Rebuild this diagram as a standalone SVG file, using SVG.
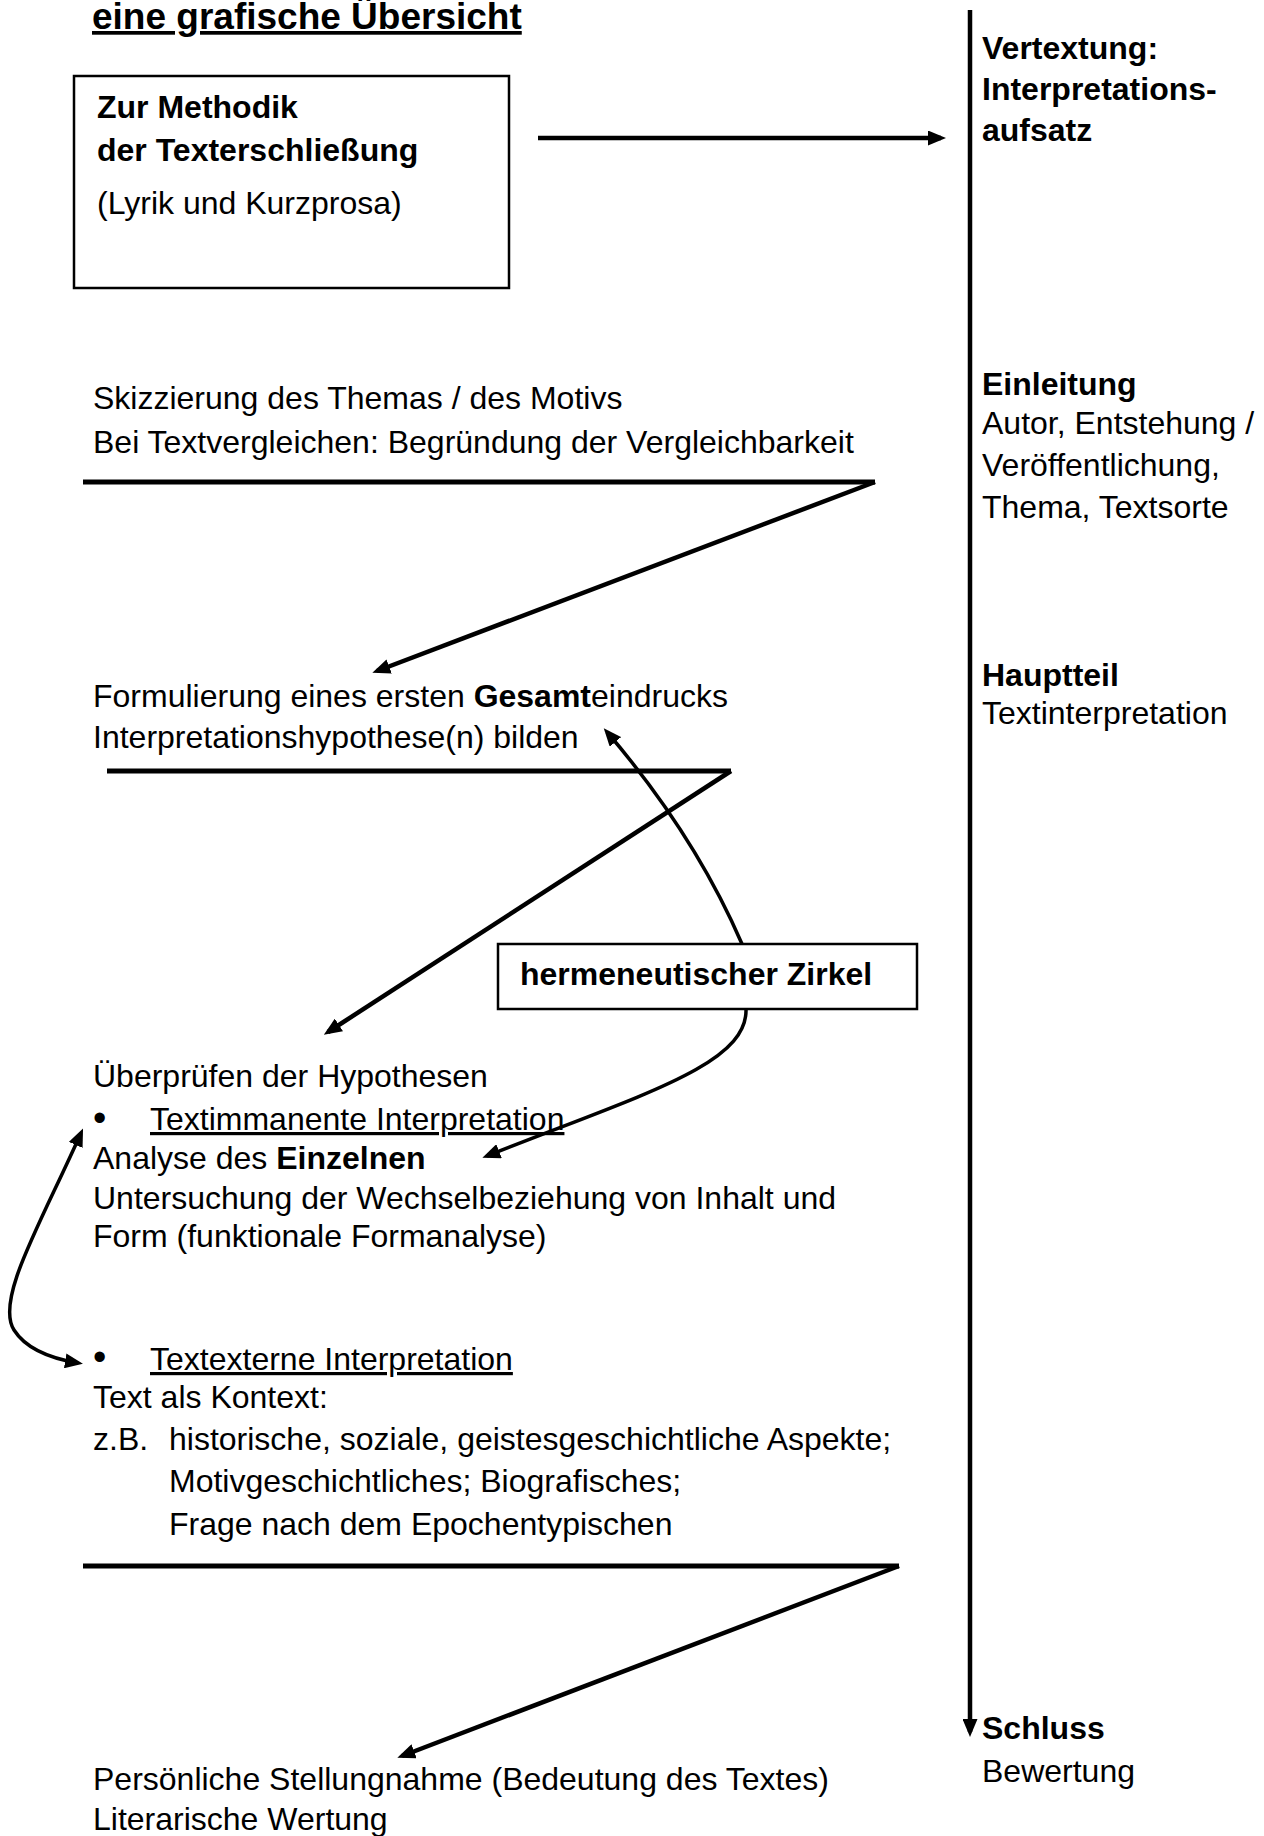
<svg xmlns="http://www.w3.org/2000/svg" width="1264" height="1836" viewBox="0 0 1264 1836">
<style>
text { font-family: "Liberation Sans", Arial, sans-serif; font-size: 32px; fill: #000; }
.b { font-weight: bold; }
.t { font-size: 37px; font-weight: bold; text-decoration: underline; }
.u { text-decoration: underline; }
.bul { font-size: 38px; }
.box { fill: #fff; stroke: #000; stroke-width: 2.5; }
.rule { stroke: #000; stroke-width: 5; fill: none; }
.ln { stroke: #000; stroke-width: 4.5; fill: none; }
.cv { stroke: #000; stroke-width: 3.5; fill: none; }
</style>
<defs>
<marker id="ah" markerUnits="userSpaceOnUse" markerWidth="18" markerHeight="15" viewBox="0 0 18 15" refX="13" refY="7.5" orient="auto-start-reverse">
<path d="M0,0 L18,7.5 L0,15 z" fill="#000"/>
</marker>
</defs>
<rect width="1264" height="1836" fill="#fff"/>

<g id="title">
<text class="t" x="92" y="29">eine grafische Übersicht</text>
</g>

<g id="methodik">
<rect class="box" x="74" y="76" width="435" height="212"/>
<text class="b" x="97" y="118">Zur Methodik</text>
<text class="b" x="97" y="161">der Texterschließung</text>
<text x="97" y="214">(Lyrik und Kurzprosa)</text>
</g>

<g id="vertextung">
<text class="b" x="982" y="59">Vertextung:</text>
<text class="b" x="982" y="100">Interpretations-</text>
<text class="b" x="982" y="141">aufsatz</text>
</g>

<g id="einleitung">
<text class="b" x="982" y="395">Einleitung</text>
<text x="982" y="434">Autor, Entstehung /</text>
<text x="982" y="476">Veröffentlichung,</text>
<text x="982" y="518">Thema, Textsorte</text>
</g>

<g id="hauptteil">
<text class="b" x="982" y="686">Hauptteil</text>
<text x="982" y="724">Textinterpretation</text>
</g>

<g id="schluss">
<text class="b" x="982" y="1739">Schluss</text>
<text x="982" y="1782">Bewertung</text>
</g>

<g id="skizzierung">
<text x="93" y="409">Skizzierung des Themas / des Motivs</text>
<text x="93" y="453">Bei Textvergleichen: Begründung der Vergleichbarkeit</text>
</g>

<g id="formulierung">
<text x="93" y="707">Formulierung eines ersten <tspan class="b">Gesamt</tspan>eindrucks</text>
<text x="93" y="748">Interpretationshypothese(n) bilden</text>
</g>

<g id="zirkel">
<rect class="box" x="498" y="944" width="419" height="65"/>
<text class="b" x="520" y="985">hermeneutischer Zirkel</text>
</g>

<g id="ueberpruefen">
<text x="93" y="1087">Überprüfen der Hypothesen</text>
<text class="bul" x="93" y="1131">•</text>
<text class="u" x="150" y="1130">Textimmanente Interpretation</text>
<text x="93" y="1169">Analyse des <tspan class="b">Einzelnen</tspan></text>
<text x="93" y="1209">Untersuchung der Wechselbeziehung von Inhalt und</text>
<text x="93" y="1247">Form (funktionale Formanalyse)</text>
<text class="bul" x="93" y="1370">•</text>
<text class="u" x="150" y="1370">Textexterne Interpretation</text>
<text x="93" y="1408">Text als Kontext:</text>
<text x="93" y="1450">z.B.</text>
<text x="169" y="1450">historische, soziale, geistesgeschichtliche Aspekte;</text>
<text x="169" y="1492">Motivgeschichtliches; Biografisches;</text>
<text x="169" y="1535">Frage nach dem Epochentypischen</text>
</g>

<g id="stellungnahme">
<text x="93" y="1790">Persönliche Stellungnahme (Bedeutung des Textes)</text>
<text x="93" y="1830">Literarische Wertung</text>
</g>

<g id="connectors">
<line class="ln" x1="538" y1="138" x2="941" y2="138" marker-end="url(#ah)"/>
<line class="ln" x1="970" y1="10" x2="970" y2="1732" marker-end="url(#ah)"/>
<line class="rule" x1="83" y1="482" x2="875" y2="482"/>
<line class="ln" x1="875" y1="482" x2="377" y2="671" marker-end="url(#ah)"/>
<line class="rule" x1="107" y1="771" x2="731" y2="771"/>
<line class="ln" x1="731" y1="771" x2="328" y2="1032" marker-end="url(#ah)"/>
<line class="rule" x1="83" y1="1566" x2="899" y2="1566"/>
<line class="ln" x1="899" y1="1566" x2="402" y2="1756" marker-end="url(#ah)"/>
<path class="cv" d="M742,944 Q695,835 607,732" marker-end="url(#ah)"/>
<path class="cv" d="M746,1009 C748,1065 640,1095 487,1156" marker-end="url(#ah)"/>
<path class="cv" d="M81,1133 C40,1225 -5,1300 14,1330 C28,1352 60,1360 78,1363" marker-start="url(#ah)" marker-end="url(#ah)"/>
</g>
</svg>
